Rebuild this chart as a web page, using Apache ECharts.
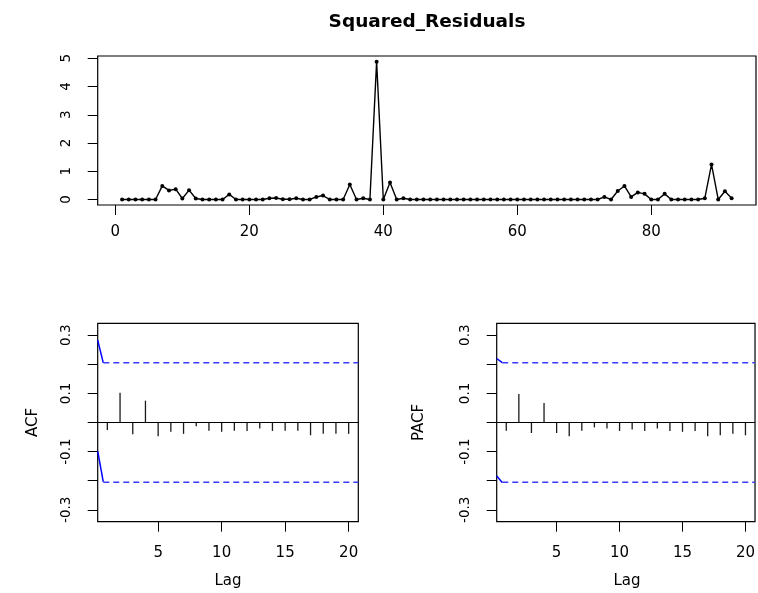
<!DOCTYPE html>
<html><head><meta charset="utf-8">
<script src="https://cdn.jsdelivr.net/npm/echarts@6/dist/echarts.min.js"></script>
<style>html,body{margin:0;padding:0;background:#fff}#c{width:758px;height:593px}</style>
</head><body><div id="c"></div>
<script>
// ---- data ----
const sqResid = [
  0,0,0,0,0,0, 0.48,0.32,0.365,0.035,0.33,0.035,
  0,0,0,0, 0.18, 0,0,0,0,0,
  0.045,0.055,0.01,0.01,0.045, 0,0, 0.09,0.14, 0,0,0,
  0.53,0,0.045,0, 4.88, 0,0.60,0,0.045,
  0,0,0,0,0,0,0,0,0,0,0,0,0,0,0,0,0,0,0,0,0,0,0,0,0,0,0,0,0,
  0.09,0,0.30,0.48,0.09,0.25,0.20, 0,0,0.20, 0,0,0,0,0,
  0.045,1.24,0,0.29,0.045
];
const timeTicks = [0,20,40,60,80];
const residTicks = [0,1,2,3,4,5];
const lags = [1,2,3,4,5,6,7,8,9,10,11,12,13,14,15,16,17,18,19,20];
const acfVals = [-0.026,0.102,-0.040,0.075,-0.047,-0.032,-0.039,-0.013,-0.028,-0.032,
                 -0.028,-0.029,-0.021,-0.029,-0.028,-0.028,-0.044,-0.039,-0.039,-0.039];
const pacfVals = [-0.028,0.098,-0.036,0.067,-0.036,-0.047,-0.028,-0.017,-0.021,-0.029,
                  -0.024,-0.029,-0.021,-0.029,-0.032,-0.029,-0.047,-0.044,-0.039,-0.044];
const lagTicks = [5,10,15,20];
const corrTicks = [-0.3,-0.2,-0.1,0,0.1,0.2,0.3];
const corrLabels = [-0.3,-0.1,0.1,0.3];
const ciLevel = 0.205;
const ciStart = 0.68;
const lagMin = 0.24, lagMax = 20.76;
const acfSolidUpper = [[0.24,0.283],[0.68,0.205]];
const acfSolidLower = [[0.24,-0.098],[0.68,-0.204]];
const pacfSolidUpper = [[0.24,0.22],[0.68,0.206]];
const pacfSolidLower = [[0.24,-0.184],[0.68,-0.206]];

// ---- chart ----
const FONT = 'DejaVu Sans';
const chart = echarts.init(document.getElementById('c'), null, {renderer:'canvas'});
const noLine = {show:false, onZero:false};

function corrYAxis(gi){
  return {
    type:'value', gridIndex:gi, min:-0.341, max:0.341,
    axisLine:noLine, splitLine:{show:false},
    axisTick:{show:true, length:10, customValues:corrTicks, lineStyle:{color:'#000', width:1}},
    axisLabel:{show:true, customValues:corrLabels, rotate:90, margin:24,
      fontFamily:FONT, fontSize:13.5, color:'#000'}
  };
}
function lagXAxis(gi){
  return {
    type:'value', gridIndex:gi, min:lagMin, max:lagMax,
    axisLine:noLine, splitLine:{show:false},
    axisTick:{show:true, length:10, customValues:lagTicks, lineStyle:{color:'#000', width:1}},
    axisLabel:{show:true, customValues:lagTicks, margin:24,
      fontFamily:FONT, fontSize:15, color:'#000'}
  };
}
function barsSeries(xi, vals){
  return {
    type:'custom', xAxisIndex:xi, yAxisIndex:xi,
    data: lags.map((l,i)=>[l, vals[i]]),
    encode:{x:0, y:1},
    renderItem:(params, api)=>{
      const p0 = api.coord([api.value(0), 0]);
      const p1 = api.coord([api.value(0), api.value(1)]);
      return {type:'line', shape:{x1:p0[0], y1:p0[1], x2:p1[0], y2:p1[1]},
              style:{stroke:'#1a1a1a', lineWidth:1.3}};
    },
    markLine:{silent:true, symbol:'none', label:{show:false},
      lineStyle:{color:'#000', type:'solid', width:1.2},
      data:[{yAxis:0}]},
    z:3
  };
}
function lineSeries(xi, data, dashed){
  return {
    type:'line', xAxisIndex:xi, yAxisIndex:xi, data:data, symbol:'none',
    lineStyle: dashed ? {color:'#3b3bff', width:1.5, type:[6,4]} : {color:'#0000ff', width:1.5},
    z:4, silent:true
  };
}

const option = {
  animation:false,
  backgroundColor:'#fff',
  grid:[
    {left:97.7, top:56, width:658.3, height:149, show:true, borderColor:'#000', borderWidth:1.2, backgroundColor:'transparent'},
    {left:97.7, top:323.3, width:260.6, height:198.4, show:true, borderColor:'#000', borderWidth:1.2, backgroundColor:'transparent'},
    {left:496.7, top:323.3, width:260.6, height:198.4, show:true, borderColor:'#000', borderWidth:1.2, backgroundColor:'transparent'}
  ],
  xAxis:[
    {type:'value', gridIndex:0, min:-2.64, max:95.64,
      axisLine:noLine, splitLine:{show:false},
      axisTick:{show:true, length:10, customValues:timeTicks, lineStyle:{color:'#000', width:1}},
      axisLabel:{show:true, customValues:timeTicks, margin:20, fontFamily:FONT, fontSize:15, color:'#000'}},
    lagXAxis(1), lagXAxis(2)
  ],
  yAxis:[
    {type:'value', gridIndex:0, min:-0.195, max:5.08,
      axisLine:noLine, splitLine:{show:false},
      axisTick:{show:true, length:10, customValues:residTicks, lineStyle:{color:'#000', width:1}},
      axisLabel:{show:true, customValues:residTicks, rotate:90, margin:24, fontFamily:FONT, fontSize:13.5, color:'#000'}},
    corrYAxis(1), corrYAxis(2)
  ],
  series:[
    {type:'line', xAxisIndex:0, yAxisIndex:0,
      data: sqResid.map((v,i)=>[i+1, v]),
      symbol:'circle', symbolSize:4, showSymbol:true,
      itemStyle:{color:'#000'}, lineStyle:{color:'#000', width:1.4}, silent:true},
    barsSeries(1, acfVals), barsSeries(2, pacfVals),
    lineSeries(1, acfSolidUpper, false), lineSeries(1, acfSolidLower, false),
    lineSeries(1, [[ciStart, ciLevel],[lagMax, ciLevel]], true),
    lineSeries(1, [[ciStart, -ciLevel],[lagMax, -ciLevel]], true),
    lineSeries(2, pacfSolidUpper, false), lineSeries(2, pacfSolidLower, false),
    lineSeries(2, [[ciStart, ciLevel],[lagMax, ciLevel]], true),
    lineSeries(2, [[ciStart, -ciLevel],[lagMax, -ciLevel]], true)
  ],
  graphic:[
    {type:'text', x:427, y:22, style:{text:'Squared_Residuals', font:'bold 18.5px "DejaVu Sans"', fill:'#000', textAlign:'center', textVerticalAlign:'middle'}},
    {type:'text', x:33, y:422.5, rotation:Math.PI/2, style:{text:'ACF', font:'15px "DejaVu Sans"', fill:'#000', textAlign:'center', textVerticalAlign:'middle'}},
    {type:'text', x:419, y:422.5, rotation:Math.PI/2, style:{text:'PACF', font:'15px "DejaVu Sans"', fill:'#000', textAlign:'center', textVerticalAlign:'middle'}},
    {type:'text', x:228, y:581, style:{text:'Lag', font:'15px "DejaVu Sans"', fill:'#000', textAlign:'center', textVerticalAlign:'middle'}},
    {type:'text', x:627, y:581, style:{text:'Lag', font:'15px "DejaVu Sans"', fill:'#000', textAlign:'center', textVerticalAlign:'middle'}}
  ]
};
chart.setOption(option);
</script>
</body></html>
